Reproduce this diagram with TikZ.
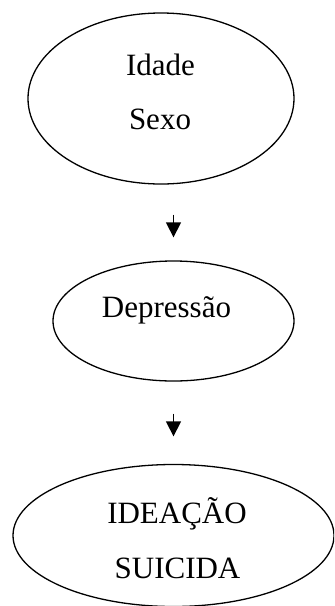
\documentclass[tikz,border=0pt]{standalone}
\usepackage{fontspec}
\setmainfont{Liberation Serif}
\usetikzlibrary{shapes.geometric,arrows.meta,positioning}

\begin{document}
\begin{tikzpicture}[
    x=0.5pt, y=-0.5pt,
    oval/.style={ellipse, draw, line width=0.65pt, inner sep=0pt},
    rotulo/.style={inner sep=0pt, anchor=base, font=\fontsize{15.5}{18}\selectfont},
    seta/.style={-{Triangle[width=7.5pt,length=7.5pt]}, line width=0.65pt}
]
\clip (0,0) rectangle (334,606);
\node[oval, minimum width=133pt, minimum height=85.5pt] (fatores) at (161,98.5) {};
\node[oval, minimum width=120.5pt, minimum height=60pt] (depressao) at (173.5,321) {};
\node[oval, minimum width=160.5pt, minimum height=71pt] (ideacao) at (173.5,535.5) {};

\node[rotulo] (idade) at (160.5,75) {Idade};
\node[rotulo] (sexo) at (160,129) {Sexo};
\node[rotulo] (dep) at (166.5,317) {Depressão};
\node[rotulo] (idea) at (177,523) {IDEAÇÃO};
\node[rotulo] (suic) at (177.5,578) {SUICIDA};

\draw[seta, shorten <=15pt, shorten >=11.5pt] (fatores.south -| depressao.north) -- (depressao.north);
\draw[seta, shorten <=16pt, shorten >=13.75pt] (depressao.south) -- (ideacao.north);
\end{tikzpicture}
\end{document}
